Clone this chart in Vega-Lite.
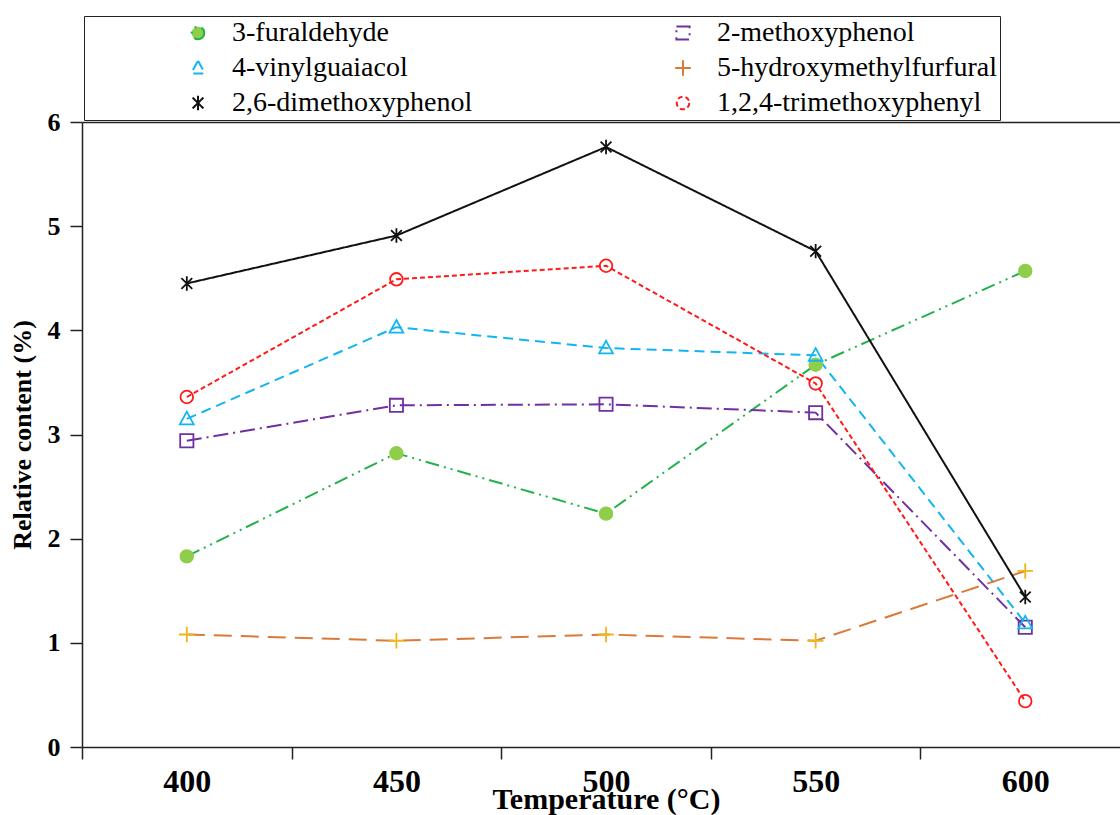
{
  "$schema": "https://vega.github.io/schema/vega-lite/v6.json",
  "autosize": {"type": "none"},
  "width": 1038,
  "height": 625,
  "padding": {"left": 82, "top": 122, "right": 0, "bottom": 68},
  "background": "white",
  "data": {
    "values": [
      {"compound": "3-furaldehyde", "temp": 400, "value": 1.83},
      {"compound": "3-furaldehyde", "temp": 450, "value": 2.82},
      {"compound": "3-furaldehyde", "temp": 500, "value": 2.24},
      {"compound": "3-furaldehyde", "temp": 550, "value": 3.67},
      {"compound": "3-furaldehyde", "temp": 600, "value": 4.57},
      {"compound": "2-methoxyphenol", "temp": 400, "value": 2.94},
      {"compound": "2-methoxyphenol", "temp": 450, "value": 3.28},
      {"compound": "2-methoxyphenol", "temp": 500, "value": 3.29},
      {"compound": "2-methoxyphenol", "temp": 550, "value": 3.21},
      {"compound": "2-methoxyphenol", "temp": 600, "value": 1.15},
      {"compound": "4-vinylguaiacol", "temp": 400, "value": 3.15},
      {"compound": "4-vinylguaiacol", "temp": 450, "value": 4.03},
      {"compound": "4-vinylguaiacol", "temp": 500, "value": 3.83},
      {"compound": "4-vinylguaiacol", "temp": 550, "value": 3.76},
      {"compound": "4-vinylguaiacol", "temp": 600, "value": 1.19},
      {"compound": "5-hydroxymethylfurfural", "temp": 400, "value": 1.08},
      {"compound": "5-hydroxymethylfurfural", "temp": 450, "value": 1.02},
      {"compound": "5-hydroxymethylfurfural", "temp": 500, "value": 1.08},
      {"compound": "5-hydroxymethylfurfural", "temp": 550, "value": 1.02},
      {"compound": "5-hydroxymethylfurfural", "temp": 600, "value": 1.69},
      {"compound": "2,6-dimethoxyphenol", "temp": 400, "value": 4.45},
      {"compound": "2,6-dimethoxyphenol", "temp": 450, "value": 4.91},
      {"compound": "2,6-dimethoxyphenol", "temp": 500, "value": 5.76},
      {"compound": "2,6-dimethoxyphenol", "temp": 550, "value": 4.76},
      {"compound": "2,6-dimethoxyphenol", "temp": 600, "value": 1.44},
      {"compound": "1,2,4-trimethoxyphenyl", "temp": 400, "value": 3.36},
      {"compound": "1,2,4-trimethoxyphenyl", "temp": 450, "value": 4.49},
      {"compound": "1,2,4-trimethoxyphenyl", "temp": 500, "value": 4.62},
      {"compound": "1,2,4-trimethoxyphenyl", "temp": 550, "value": 3.49},
      {"compound": "1,2,4-trimethoxyphenyl", "temp": 600, "value": 0.44}
    ]
  },
  "resolve": {"axis": {"x": "independent", "y": "independent"}},
  "layer": [
    {
      "mark": {"type": "line", "strokeWidth": 2},
      "encoding": {
        "x": {
          "field": "temp", "type": "quantitative",
          "scale": {"domain": [375, 622.6], "nice": false, "zero": false},
          "axis": {
            "orient": "bottom", "values": [400, 450, 500, 550, 600], "format": "d",
            "ticks": false, "tickSize": 0, "grid": false,
            "domain": true, "domainColor": "#222222", "domainWidth": 1.5,
            "labelFont": "Liberation Serif", "labelFontWeight": "bold", "labelFontSize": 32,
            "labelColor": "black", "labelPadding": 19,
            "title": "Temperature (°C)", "titleFont": "Liberation Serif", "titleFontWeight": "bold",
            "titleFontSize": 30, "titleColor": "black", "titleY": 61, "titleX": 524, "titleBaseline": "alphabetic"
          }
        },
        "y": {
          "field": "value", "type": "quantitative",
          "scale": {"domain": [0, 6], "nice": false},
          "axis": {
            "orient": "left", "values": [0, 1, 2, 3, 4, 5, 6], "grid": false,
            "ticks": true, "tickSize": 12, "tickWidth": 1.5, "tickColor": "#222222",
            "domain": true, "domainColor": "#222222", "domainWidth": 1.5,
            "labelFont": "Liberation Serif", "labelFontWeight": "bold", "labelFontSize": 26,
            "labelColor": "black", "labelPadding": 10,
            "title": "Relative content (%)", "titleFont": "Liberation Serif", "titleFontWeight": "bold",
            "titleFontSize": 26, "titleColor": "black", "titlePadding": 12
          }
        },
        "color": {
          "field": "compound", "type": "nominal",
          "scale": {
            "domain": ["3-furaldehyde", "4-vinylguaiacol", "2,6-dimethoxyphenol", "2-methoxyphenol", "5-hydroxymethylfurfural", "1,2,4-trimethoxyphenyl"],
            "range": ["#22b24c", "#12b5f0", "#111111", "#7030a0", "#d9793a", "#ff1a1a"]
          }
        },
        "strokeDash": {
          "field": "compound", "type": "nominal",
          "scale": {
            "domain": ["3-furaldehyde", "4-vinylguaiacol", "2,6-dimethoxyphenol", "2-methoxyphenol", "5-hydroxymethylfurfural", "1,2,4-trimethoxyphenyl"],
            "range": [[14, 5, 2, 5, 2, 5], [10, 6], [1, 0], [15, 5, 2, 5], [18, 9], [5, 3]]
          }
        }
      }
    },
    {
      "mark": {"type": "point", "filled": false, "size": 144, "strokeWidth": 1.8, "opacity": 1},
      "encoding": {
        "x": {
          "field": "temp", "type": "quantitative",
          "axis": {
            "orient": "bottom", "values": [375, 425, 475, 525, 575],
            "ticks": true, "tickSize": 12, "tickWidth": 1.5, "tickColor": "#222222",
            "labels": false, "domain": false, "grid": false, "title": null
          }
        },
        "y": {
          "field": "value", "type": "quantitative",
          "axis": {
            "orient": "left", "values": [6], "grid": true, "gridColor": "#222222", "gridWidth": 1.5, "gridOpacity": 1,
            "ticks": false, "labels": false, "domain": false, "title": null
          }
        },
        "shape": {
          "field": "compound", "type": "nominal",
          "scale": {
            "domain": ["3-furaldehyde", "4-vinylguaiacol", "2,6-dimethoxyphenol", "2-methoxyphenol", "5-hydroxymethylfurfural", "1,2,4-trimethoxyphenyl"],
            "range": [
              "M1.05,0A1.05,1.05,0,1,1,-1.05,0A1.05,1.05,0,1,1,1.05,0Z",
              "M0,-1.2L1.15,0.9L-1.15,0.9Z",
              "M-0.9,-0.9L0.9,0.9M-0.9,0.9L0.9,-0.9M0,-1.2L0,1.2",
              "M-1.1,-1.1L1.1,-1.1L1.1,1.1L-1.1,1.1Z",
              "M-1.3,0L1.3,0M0,-1.3L0,1.3",
              "M1.05,0A1.05,1.05,0,1,1,-1.05,0A1.05,1.05,0,1,1,1.05,0Z"
            ]
          },
          "legend": {
            "orient": "none", "legendX": 2, "legendY": -106,
            "columns": 2, "columnPadding": 176, "rowPadding": 7,
            "title": "\u00a0", "titleOrient": "left", "titleFontSize": 10, "titlePadding": 77,
            "padding": 3, "strokeColor": "#222222",
            "labelFont": "Liberation Serif", "labelFontSize": 28, "labelColor": "black", "labelLimit": 800,
            "symbolSize": 144, "symbolStrokeWidth": 2, "symbolOffset": 20, "labelOffset": 20
          }
        },
        "stroke": {
          "field": "compound", "type": "nominal",
          "scale": {
            "domain": ["3-furaldehyde", "4-vinylguaiacol", "2,6-dimethoxyphenol", "2-methoxyphenol", "5-hydroxymethylfurfural", "1,2,4-trimethoxyphenyl"],
            "range": ["#8fce4a", "#12b5f0", "#111111", "#7030a0", "#f0b41e", "#ff1a1a"]
          }
        },
        "fill": {
          "field": "compound", "type": "nominal",
          "scale": {
            "domain": ["3-furaldehyde", "4-vinylguaiacol", "2,6-dimethoxyphenol", "2-methoxyphenol", "5-hydroxymethylfurfural", "1,2,4-trimethoxyphenyl"],
            "range": ["#8fce4a", "transparent", "transparent", "transparent", "transparent", "transparent"]
          }
        }
      }
    }
  ],
  "config": {
    "view": {"stroke": null},
    "font": "Liberation Serif"
  }
}
